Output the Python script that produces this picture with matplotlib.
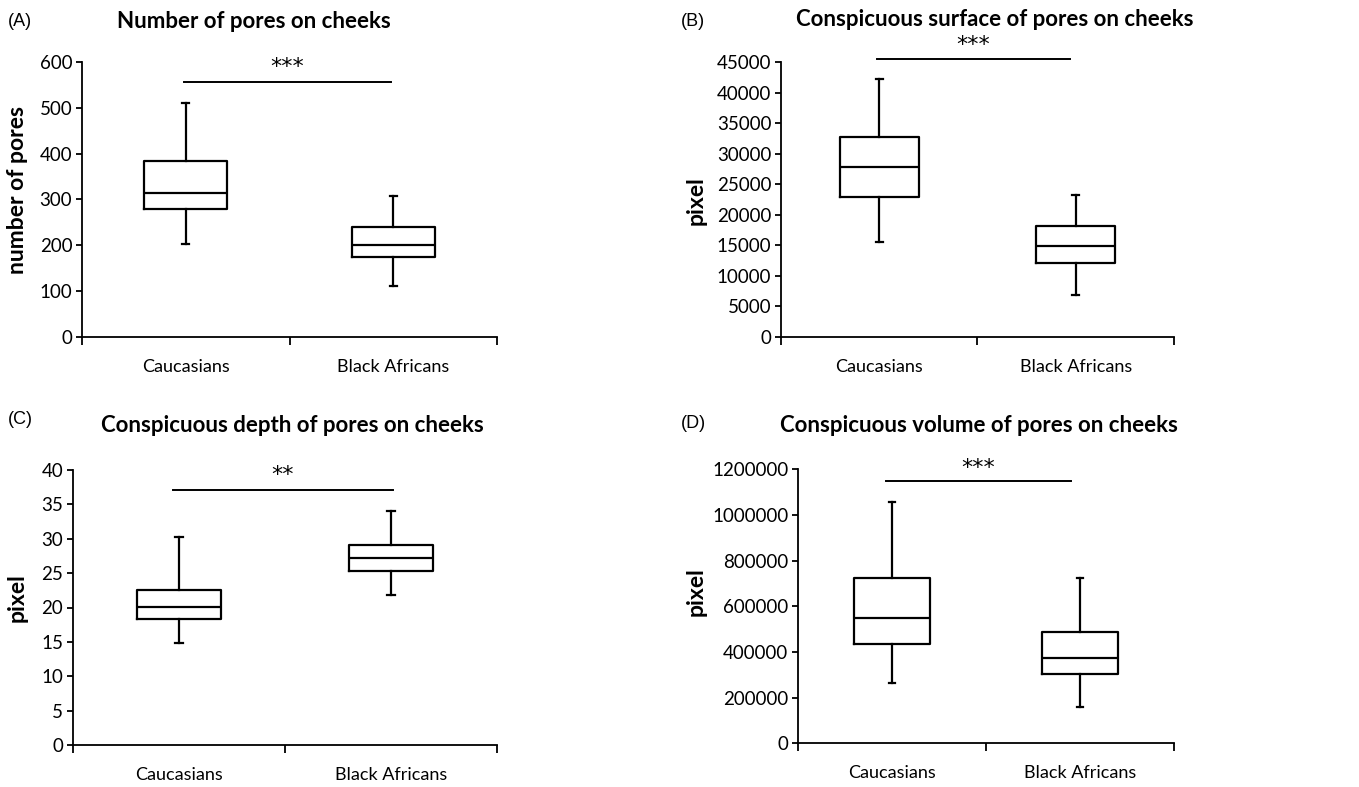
import matplotlib
matplotlib.use("Agg")
import matplotlib.pyplot as plt
from matplotlib import font_manager

# ---------------- data ----------------
groups = ["Caucasians", "Black Africans"]

titles = ["Number of pores on cheeks",
          "Conspicuous surface of pores on cheeks",
          "Conspicuous depth of pores on cheeks",
          "Conspicuous volume of pores on cheeks"]
panel_labels = ["(A)", "(B)", "(C)", "(D)"]
ylabels = ["number of pores", "pixel", "pixel", "pixel"]
stars = ["***", "***", "**", "***"]

# [whislo, q1, median, q3, whishi] for Caucasians, Black Africans
pores_number = [[202, 280, 314, 383, 510], [112, 174, 201, 239, 308]]
pores_surface = [[15570, 22900, 27870, 32790, 42240], [6890, 12080, 14870, 18200, 23230]]
pores_depth = [[14.9, 18.4, 20.1, 22.5, 30.3], [21.8, 25.3, 27.2, 29.1, 34.1]]
pores_volume = [[263000, 436000, 550000, 725000, 1055000], [158000, 305000, 372000, 486000, 725000]]

yticks_A = [0, 100, 200, 300, 400, 500, 600]
yticks_B = [0, 5000, 10000, 15000, 20000, 25000, 30000, 35000, 40000, 45000]
yticks_C = [0, 5, 10, 15, 20, 25, 30, 35, 40]
yticks_D = [0, 200000, 400000, 600000, 800000, 1000000, 1200000]

sig_levels = [557, 45470, 37.1, 1149000]
star_levels = [589, 47800, 39.3, 1204000]

# ---------------- fonts ----------------
available = {f.name for f in font_manager.fontManager.ttflist}
fam = "DejaVu Sans"
for cand in ["Lato", "Roboto", "Open Sans"]:
    if cand in available:
        fam = cand
        break
lab_fam = "Liberation Sans" if "Liberation Sans" in available else "DejaVu Sans"
plt.rcParams["font.family"] = fam

W, H = 1359, 787
fig = plt.figure(figsize=(W / 100, H / 100), dpi=100)

def frac(l, r, t, b):
    return [l / W, 1 - b / H, (r - l) / W, (b - t) / H]

rects = [frac(82, 497, 62, 337), frac(781, 1174, 62, 336.7),
         frac(73, 497, 470, 745), frac(798, 1174, 469.3, 743.3)]
datasets = [pores_number, pores_surface, pores_depth, pores_volume]
ytick_sets = [yticks_A, yticks_B, yticks_C, yticks_D]
sig_x = [(0.49, 1.49), (0.49, 1.47), (0.47, 1.51), (0.47, 1.45)]
title_pos = [(254, 22), (995, 19), (292, 425), (979, 425)]
label_pos = [(8, 22), (681, 21), (8, 420), (681, 423)]
ylabel_coords = [(-0.130, 0.535), (-0.188, 0.494), (-0.106, 0.535), (-0.242, 0.552)]

for i in range(4):
    ax = fig.add_axes(rects[i])
    stats = []
    for g, vals in zip(groups, datasets[i]):
        lo, q1, med, q3, hi = vals
        stats.append(dict(label=g, whislo=lo, q1=q1, med=med, q3=q3, whishi=hi, fliers=[]))
    lw = 1.6
    ax.bxp(stats, positions=[0.5, 1.5], widths=0.4, capwidths=0.035,
           showfliers=False, patch_artist=False,
           boxprops=dict(color="black", linewidth=lw),
           medianprops=dict(color="black", linewidth=lw),
           whiskerprops=dict(color="black", linewidth=lw),
           capprops=dict(color="black", linewidth=lw))
    yt = ytick_sets[i]
    ax.set_xlim(0, 2)
    ax.set_ylim(yt[0], yt[-1])
    ax.set_yticks(yt)
    ax.set_yticklabels([str(v) for v in yt], fontsize=13.5)
    ax.set_xticks([0, 1, 2])
    ax.set_xticklabels([])
    ax.tick_params(axis="x", direction="out", length=6, width=1.3)
    ax.tick_params(axis="y", direction="out", length=4, width=1.3, pad=3)
    for s in ["top", "right"]:
        ax.spines[s].set_visible(False)
    for s in ["left", "bottom"]:
        ax.spines[s].set_linewidth(1.3)
    for x, g in zip([0.5, 1.5], groups):
        ax.text(x, -0.11, g, transform=ax.get_xaxis_transform(), ha="center", va="center",
                fontsize=13)
    ax.set_ylabel(ylabels[i], fontsize=16.5, fontweight="bold")
    ax.yaxis.set_label_coords(*ylabel_coords[i])
    x0, x1 = sig_x[i]
    ax.plot([x0, x1], [sig_levels[i]] * 2, color="black", linewidth=1.4, clip_on=False)
    ax.text((x0 + x1) / 2, star_levels[i], stars[i], ha="center", va="center",
            fontsize=16, family="DejaVu Sans", clip_on=False)
    tx, ty = title_pos[i]
    fig.text(tx / W, 1 - ty / H, titles[i], ha="center", va="center",
             fontsize=16, fontweight="bold")
    lx, ly = label_pos[i]
    fig.text(lx / W, 1 - ly / H, panel_labels[i], ha="left", va="center",
             fontsize=13, family=lab_fam)

fig.savefig("out.png", dpi=100, facecolor="white")
